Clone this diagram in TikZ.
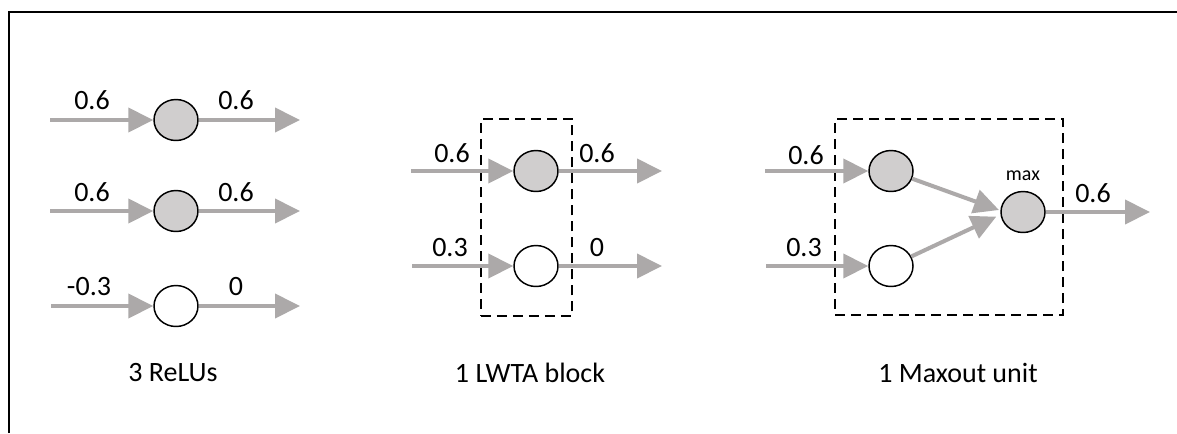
\documentclass[tikz,border=0pt]{standalone}
\usepackage{fontspec}
\setmainfont{Carlito}
\usetikzlibrary{arrows.meta,shapes.geometric}
\definecolor{arr}{RGB}{172,169,169}
\definecolor{nfill}{RGB}{208,206,206}
\begin{document}
\begin{tikzpicture}[x=0.75pt,y=-0.75pt,
 unit/.style={ellipse,draw=black,line width=1.1pt,minimum width=33pt,minimum height=30.75pt,inner sep=0pt},
 actnode/.style={unit,fill=nfill},
 inactnode/.style={unit,fill=white},
 conn/.style={draw=arr,line width=3pt,-{Triangle[length=18.75pt,width=18pt,fill=arr]}},
 lbl/.style={inner sep=0pt,font=\fontsize{21}{25}\selectfont},
 smalllbl/.style={inner sep=0pt,font=\fontsize{15}{18}\selectfont},
 dbox/.style={draw=black,line width=1.1pt,dash pattern=on 7.5pt off 4.5pt}]
\useasboundingbox (0,0) rectangle (1177,433);
\fill[white] (0,0) rectangle (1177,433);
\draw[line width=1.5pt] (9,433) -- (9,12) -- (1177,12);

% ReLUs
\node[actnode] (r1) at (176,120) {};
\node[actnode] (r2) at (176,211) {};
\node[inactnode] (r3) at (176,306) {};
\coordinate (ri1) at (50,120);
\coordinate (ri2) at (50,211);
\coordinate (ri3) at (51,306);
\coordinate (ro1) at (300,120);
\coordinate (ro2) at (300,211);
\coordinate (ro3) at (300,306);
\draw[conn] (ri1) -- (r1);
\draw[conn] (ri2) -- (r2);
\draw[conn] (ri3) -- (r3);
\draw[conn] (r1) -- (ro1);
\draw[conn] (r2) -- (ro2);
\draw[conn] (r3) -- (ro3);
\node[lbl] (l1) at (92,100) {0.6};
\node[lbl] (l2) at (236,100) {0.6};
\node[lbl] (l3) at (92,192) {0.6};
\node[lbl] (l4) at (236,192) {0.6};
\node[lbl] (l5) at (89,287) {-0.3};
\node[lbl] (l6) at (236,287) {0};
\node[lbl] (t1) at (173,373) {3 ReLUs};

% LWTA
\node[dbox,minimum width=68.5pt,minimum height=147.75pt,inner sep=0pt] (wb) at (526.5,217.5) {};
\node[actnode] (w1) at (536,171) {};
\node[inactnode] (w2) at (536,266) {};
\coordinate (wi1) at (411,171);
\coordinate (wi2) at (412,266);
\coordinate (wo1) at (662,171);
\coordinate (wo2) at (662,266);
\draw[conn] (wi1) -- (w1);
\draw[conn] (wi2) -- (w2);
\draw[conn] (w1) -- (wo1);
\draw[conn] (w2) -- (wo2);
\node[lbl] (l7) at (452,153) {0.6};
\node[lbl] (l8) at (597,153) {0.6};
\node[lbl] (l9) at (450,248) {0.3};
\node[lbl] (l10) at (597,248) {0};
\node[lbl] (t2) at (530,373) {1 LWTA block};

% Maxout
\node[dbox,minimum width=171pt,minimum height=147pt,inner sep=0pt] (mb) at (949,217) {};
\node[actnode] (m1) at (891,171) {};
\node[inactnode] (m2) at (891,266) {};
\node[actnode] (mx) at (1023,212) {};
\coordinate (mi1) at (765,171);
\coordinate (mi2) at (766,266);
\coordinate (mo) at (1150,212);
\draw[conn] (mi1) -- (m1);
\draw[conn] (mi2) -- (m2);
\draw[conn] (m1) -- ([xshift=-1pt,yshift=1.5pt]mx.west);
\draw[conn] (m2) -- ([xshift=-3pt,yshift=-3.5pt]mx.west);
\draw[conn] (mx) -- (mo);
\node[lbl] (l11) at (806,155) {0.6};
\node[lbl] (l12) at (804,248) {0.3};
\node[lbl] (l13) at (1093,193) {0.6};
\node[smalllbl] (l14) at (1023,176) {max};
\node[lbl] (t3) at (958,373) {1 Maxout unit};
\end{tikzpicture}
\end{document}
